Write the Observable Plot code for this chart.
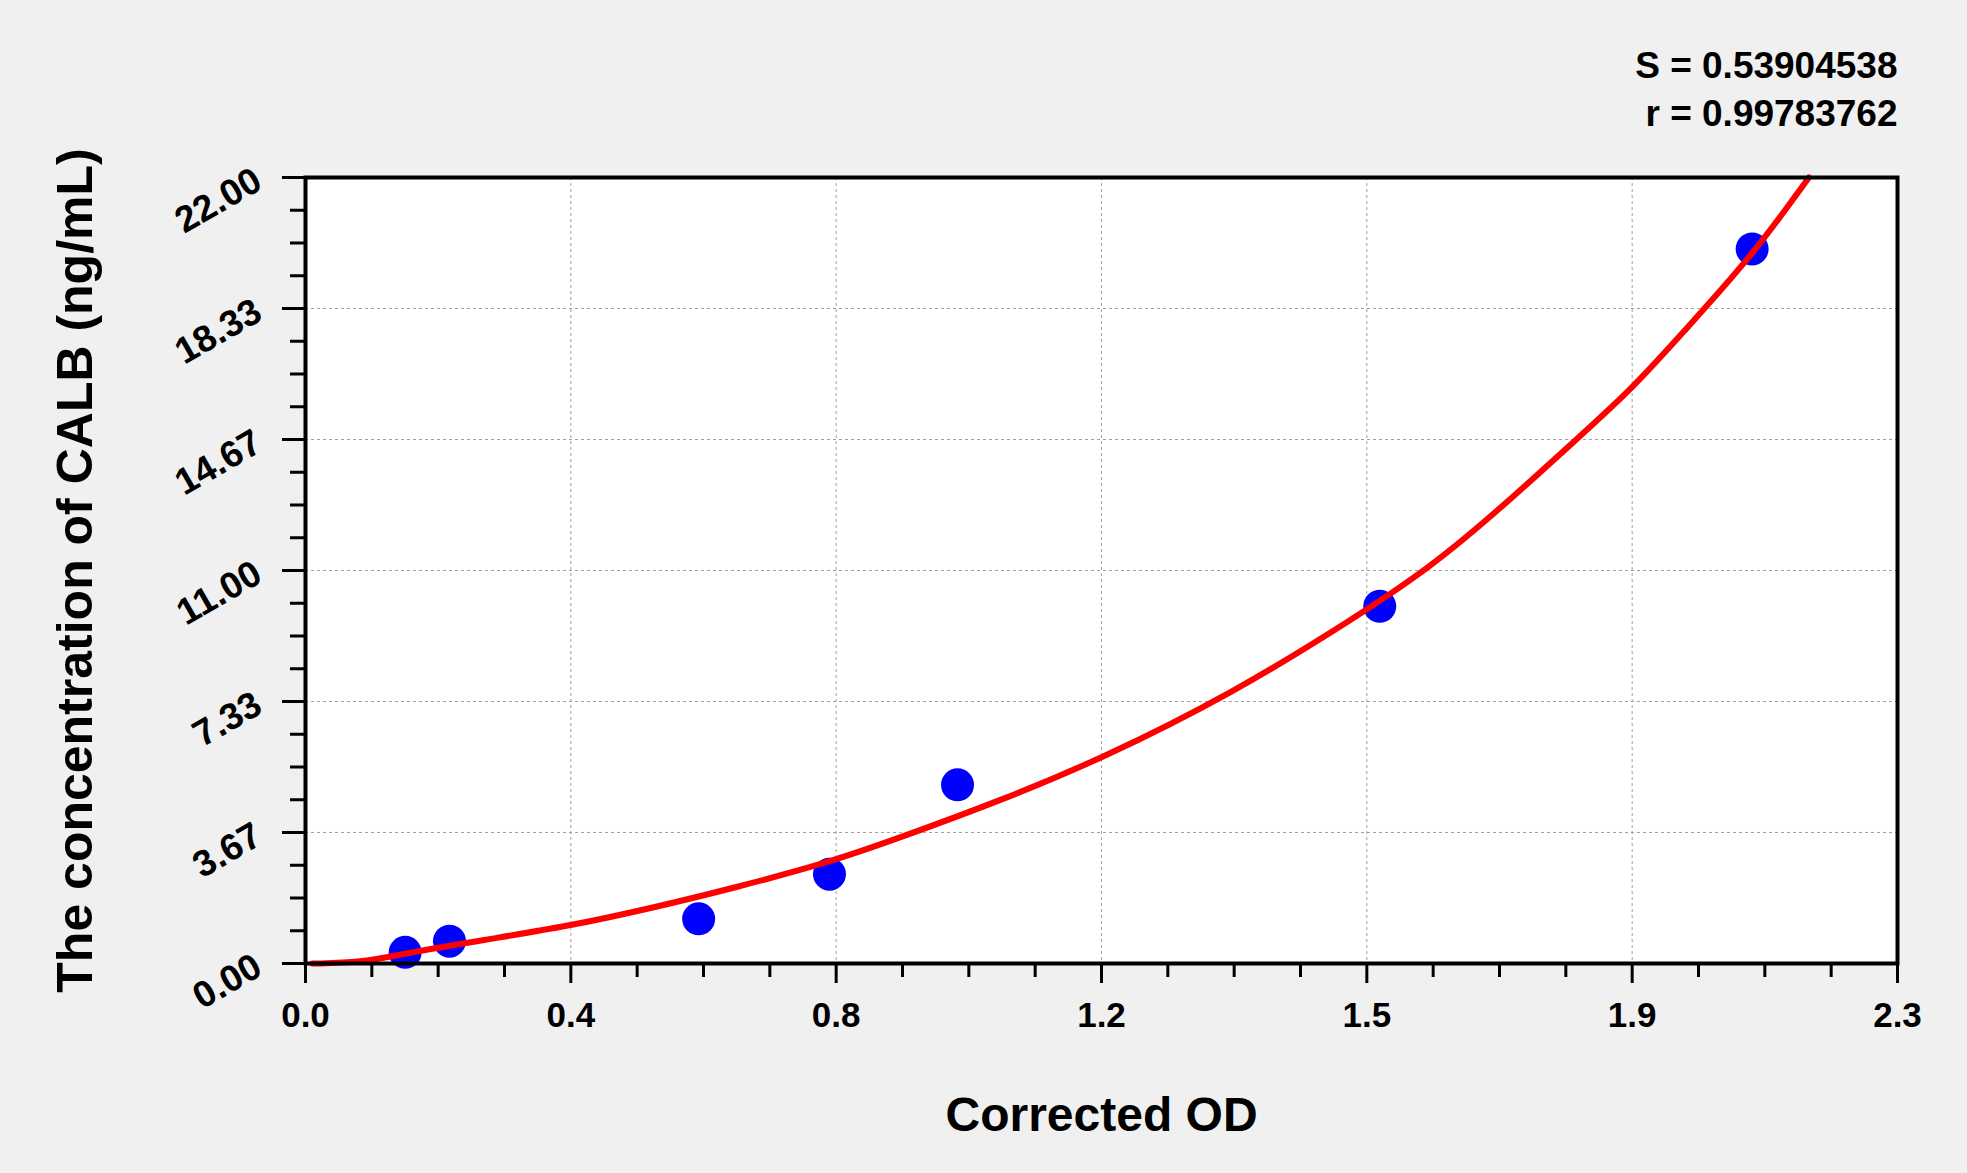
<!DOCTYPE html>
<html>
<head>
<meta charset="utf-8">
<script src="https://cdn.jsdelivr.net/npm/d3@7"></script>
<script src="https://cdn.jsdelivr.net/npm/@observablehq/plot@0.6"></script>
<style>
  body { margin: 0; background: #f0f0f0; }
  #chart svg { display: block; }
</style>
</head>
<body>
<div id="chart"></div>
<script>
// standards (corrected OD vs concentration)
const stdOD = [0.144, 0.208, 0.568, 0.757, 0.942, 1.552, 2.090];
const stdConc = [0.3125, 0.625, 1.25, 2.5, 5, 10, 20];

// fitted curve
const curveOD = [0.01, 0.08, 0.142, 0.26, 0.379, 0.498, 0.62, 0.757, 0.86, 1.004, 1.148, 1.341, 1.51, 1.625, 1.726, 1.823, 1.917, 1.986, 2.09, 2.172];
const curveConc = [0, 0.02, 0.28, 0.67, 1.04, 1.54, 2.12, 2.83, 3.53, 4.56, 5.71, 7.58, 9.6, 11.08, 12.73, 14.44, 16.09, 17.58, 19.8, 22];

// axes
const xTicks = [0, 0.38333, 0.76667, 1.15, 1.53333, 1.91667, 2.3];
const xTickLabels = ["0.0", "0.4", "0.8", "1.2", "1.5", "1.9", "2.3"];
const yTicks = [0, 3.66667, 7.33333, 11, 14.66667, 18.33333, 22];
const yTickLabels = ["0.00", "3.67", "7.33", "11.00", "14.67", "18.33", "22.00"];

const statLines = ["S = 0.53904538", "r = 0.99783762"];
const xTitle = "Corrected OD";
const yTitle = "The concentration of CALB (ng/mL)";

// minor ticks: 4 steps per major interval
const minor = ticks => d3.pairs(ticks).flatMap(([a, b]) => [1, 2, 3].map(k => a + (b - a) * k / 4));
const xLabel = new Map(xTicks.map((d, i) => [d, xTickLabels[i]]));
const yLabel = new Map(yTicks.map((d, i) => [d, yTickLabels[i]]));

const std = stdOD.map((d, i) => ({od: d, conc: stdConc[i]}));
const curve = curveOD.map((d, i) => ({od: d, conc: curveConc[i]}));

const chart = Plot.plot({
  width: 1967,
  height: 1173,
  marginLeft: 305,
  marginRight: 70,
  marginTop: 177,
  marginBottom: 210,
  style: {background: "#f0f0f0", fontFamily: "'Liberation Sans', Arial, sans-serif", fontWeight: "bold", color: "black"},
  x: {domain: [0, 2.3]},
  y: {domain: [0, 22]},
  marks: [
    Plot.frame({fill: "white", stroke: null}),
    Plot.gridX(xTicks, {stroke: "#a0a0a0", strokeOpacity: 1, strokeWidth: 1, strokeDasharray: "3,3"}),
    Plot.gridY(yTicks, {stroke: "#a0a0a0", strokeOpacity: 1, strokeWidth: 1, strokeDasharray: "3,3"}),
    Plot.dot(std, {x: "od", y: "conc", r: 16.5, fill: "#0000ff", stroke: null}),
    Plot.line(curve, {x: "od", y: "conc", stroke: "#ff0000", strokeWidth: 6, curve: "basis"}),
    Plot.frame({stroke: "black", strokeWidth: 4}),
    Plot.axisX(minor(xTicks), {tickSize: 14, strokeWidth: 3, fill: "none", label: null}),
    Plot.axisX(xTicks, {tickSize: 20, tickPadding: 19, strokeWidth: 3, fontSize: 35, tickFormat: d => xLabel.get(d), label: null}),
    Plot.axisY(minor(yTicks), {tickSize: 15, strokeWidth: 3, fill: "none", label: null}),
    Plot.axisY(yTicks, {tickSize: 23, tickPadding: 24, strokeWidth: 3, fontSize: 37, tickRotate: -30, tickFormat: d => yLabel.get(d), label: null}),
    Plot.text([xTitle], {text: d => d, frameAnchor: "bottom", dy: 152, fontSize: 48, lineAnchor: "middle"}),
    Plot.text([yTitle], {text: d => d, frameAnchor: "left", textAnchor: "middle", dx: -230, rotate: -90, fontSize: 50, lineAnchor: "middle"}),
    Plot.text([statLines[0]], {text: d => d, frameAnchor: "top-right", textAnchor: "end", dy: -111, fontSize: 37, letterSpacing: -1.5, lineAnchor: "middle"}),
    Plot.text([statLines[1]], {text: d => d, frameAnchor: "top-right", textAnchor: "end", dy: -63, fontSize: 37, letterSpacing: -1.5, lineAnchor: "middle"})
  ]
});

d3.select("#chart").append(() => chart);
</script>
</body>
</html>
